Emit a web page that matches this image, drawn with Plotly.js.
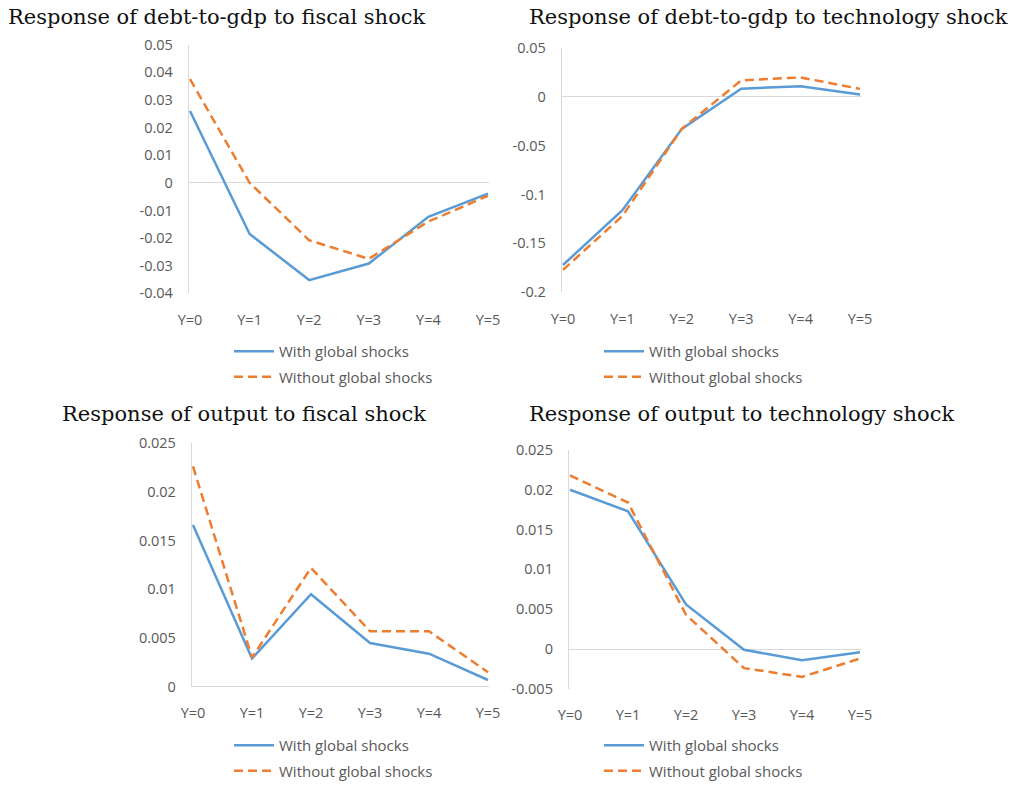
<!DOCTYPE html>
<html>
<head>
<meta charset="utf-8">
<script src="https://cdn.plot.ly/plotly-3.0.1.min.js"></script>
<style>html,body{margin:0;padding:0;background:#fff;}#chart{width:1013px;height:787px;}</style>
</head>
<body>
<div id="chart"></div>
<script>
// ---- data ----
const categories = ["Y=0", "Y=1", "Y=2", "Y=3", "Y=4", "Y=5"];
const seriesNames = ["With global shocks", "Without global shocks"];
const panelTitles = [
  "Response of debt-to-gdp to fiscal shock",
  "Response of debt-to-gdp to technology shock",
  "Response of output to fiscal shock",
  "Response of output to technology shock"
];
// Panel 1: debt-to-gdp, fiscal shock
const debtFiscalWith    = [0.026, -0.0185, -0.0352, -0.0292, -0.0123, -0.0039];
const debtFiscalWithout = [0.0375, 0.0, -0.0208, -0.0275, -0.0140, -0.0047];
// Panel 2: debt-to-gdp, technology shock
const debtTechWith      = [-0.172, -0.116, -0.033, 0.008, 0.0105, 0.002];
const debtTechWithout   = [-0.177, -0.122, -0.033, 0.0165, 0.0195, 0.0078];
// Panel 3: output, fiscal shock
const outFiscalWith     = [0.0166, 0.0029, 0.0095, 0.0045, 0.0034, 0.0007];
const outFiscalWithout  = [0.0226, 0.003, 0.0122, 0.0057, 0.0057, 0.0015];
// Panel 4: output, technology shock
const outTechWith       = [0.0200, 0.0173, 0.0056, -0.0001, -0.0014, -0.0004];
const outTechWithout    = [0.0218, 0.0184, 0.0043, -0.0024, -0.0035, -0.0012];
// tick labels
const yTicks1 = [0.05, 0.04, 0.03, 0.02, 0.01, 0, -0.01, -0.02, -0.03, -0.04];
const yTickText1 = ["0.05","0.04","0.03","0.02","0.01","0","-0.01","-0.02","-0.03","-0.04"];
const yTicks2 = [0.05, 0, -0.05, -0.1, -0.15, -0.2];
const yTickText2 = ["0.05","0","-0.05","-0.1","-0.15","-0.2"];
const yTicks3 = [0.025, 0.02, 0.015, 0.01, 0.005, 0];
const yTickText3 = ["0.025","0.02","0.015","0.01","0.005","0"];
const yTicks4 = [0.025, 0.02, 0.015, 0.01, 0.005, 0, -0.005];
const yTickText4 = ["0.025","0.02","0.015","0.01","0.005","0","-0.005"];

// ---- styling / layout ----
const BLUE = "#5B9BD5", ORANGE = "#ED7D31", GREY = "#595959", AXIS = "#D9D9D9";
const tickFont = {family: "Open Sans, Liberation Sans, sans-serif", size: 14.5, color: GREY};
const W = 1013, H = 787;

const panels = [
  {w: debtFiscalWith, wo: debtFiscalWithout, tv: yTicks1, tt: yTickText1, range: [-0.04, 0.05], px: [190, 488], py: [45, 296], legend: [229, 338]},
  {w: debtTechWith, wo: debtTechWithout, tv: yTicks2, tt: yTickText2, range: [-0.2, 0.05], px: [563, 860], py: [48, 295], legend: [599, 338]},
  {w: outFiscalWith, wo: outFiscalWithout, tv: yTicks3, tt: yTickText3, range: [0, 0.025], px: [193, 488], py: [447, 693], legend: [229, 736]},
  {w: outTechWith, wo: outTechWithout, tv: yTicks4, tt: yTickText4, range: [-0.005, 0.025], px: [570, 860], py: [454, 695], legend: [599, 736]}
];

const data = [];
const layout = {
  width: W, height: H,
  margin: {l: 0, r: 0, t: 0, b: 0},
  paper_bgcolor: "#fff", plot_bgcolor: "#fff",
  showlegend: true,
  annotations: []
};

panels.forEach((p, i) => {
  const n = i + 1;
  const xa = n === 1 ? "x" : "x" + n, ya = n === 1 ? "y" : "y" + n;
  const lg = n === 1 ? "legend" : "legend" + n;
  data.push({x: categories, y: p.w, xaxis: xa, yaxis: ya, type: "scatter", mode: "lines",
    name: seriesNames[0], legend: lg, legendgroup: "a" + n,
    line: {color: BLUE, width: 2.5}, hoverinfo: "skip"});
  data.push({x: categories, y: p.wo, xaxis: xa, yaxis: ya, type: "scatter", mode: "lines",
    name: seriesNames[1], legend: lg, legendgroup: "b" + n,
    line: {color: ORANGE, width: 2.5, dash: "9px,5px"}, hoverinfo: "skip"});
  const unit = (p.px[1] - p.px[0]) / 5, pad = 0.02;
  const xKey = n === 1 ? "xaxis" : "xaxis" + n, yKey = n === 1 ? "yaxis" : "yaxis" + n;
  layout[xKey] = {
    domain: [(p.px[0] - pad * unit) / W, (p.px[1] + pad * unit) / W],
    anchor: ya, type: "category", range: [-pad, 5 + pad],
    showgrid: false, zeroline: false, showline: false,
    ticks: "outside", ticklen: 13, tickcolor: "rgba(0,0,0,0)",
    tickfont: tickFont, fixedrange: true
  };
  layout[yKey] = {
    domain: [1 - p.py[1] / H, 1 - p.py[0] / H],
    anchor: xa, range: p.range,
    tickvals: p.tv, ticktext: p.tt,
    showgrid: false, zeroline: true, zerolinecolor: AXIS, zerolinewidth: 1,
    showline: true, linecolor: AXIS, linewidth: 1,
    ticks: "outside", ticklen: 12, tickcolor: "rgba(0,0,0,0)",
    tickfont: tickFont, fixedrange: true
  };
  layout[lg] = {
    x: p.legend[0] / W, y: 1 - p.legend[1] / H, xanchor: "left", yanchor: "top",
    orientation: "v", traceorder: "grouped", tracegroupgap: 3,
    bgcolor: "rgba(0,0,0,0)", borderwidth: 0, itemwidth: 40,
    font: {family: "Open Sans, Liberation Sans, sans-serif", size: 15, color: GREY}
  };
  const left = (i % 2 === 0);
  layout.annotations.push({
    text: panelTitles[i], xref: "paper", yref: "paper",
    x: left ? 428 / W : 527 / W, xanchor: left ? "right" : "left",
    y: 1 - (i < 2 ? 17 : 418) / H, yanchor: "middle",
    showarrow: false,
    font: {family: "DejaVu Serif, Liberation Serif, serif", size: 21, color: "#111"}
  });
});

Plotly.newPlot("chart", data, layout, {displayModeBar: false, staticPlot: true});
</script>
</body>
</html>
